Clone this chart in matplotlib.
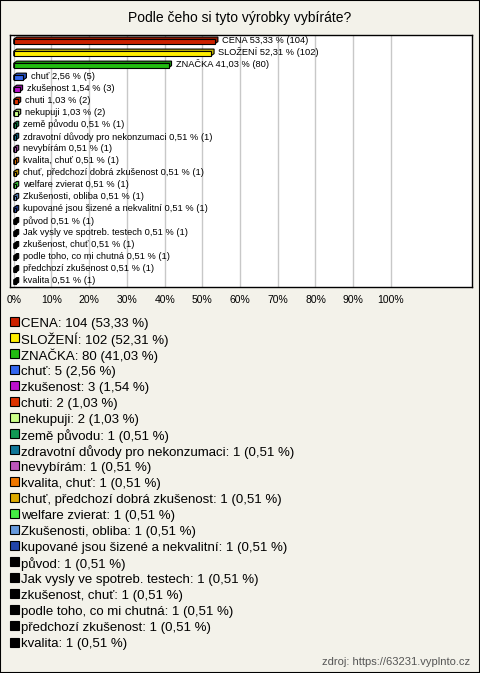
import numpy as np
import matplotlib.pyplot as plt
from matplotlib.patches import Rectangle
from matplotlib.colors import to_rgb

plt.rcParams['font.family'] = ['Liberation Sans', 'DejaVu Sans']

# data
labels = ["CENA", "SLOŽENÍ", "ZNAČKA", "chuť", "zkušenost", "chuti", "nekupuji",
          "země původu", "zdravotní důvody pro nekonzumaci", "nevybírám", "kvalita, chuť",
          "chuť, předchozí dobrá zkušenost", "welfare zvierat", "Zkušenosti, obliba",
          "kupované jsou šizené a nekvalitní", "původ", "Jak vysly ve spotreb. testech",
          "zkušenost, chuť", "podle toho, co mi chutná", "předchozí zkušenost", "kvalita"]
counts = [104, 102, 80, 5, 3, 2, 2, 1, 1, 1, 1, 1, 1, 1, 1, 1, 1, 1, 1, 1, 1]
pcts = [53.33, 52.31, 41.03, 2.56, 1.54, 1.03, 1.03] + [0.51] * 14
colors = ["#cc2200", "#ffee00", "#22bb11", "#3366ee", "#bb11cc", "#dd3300", "#ccff88",
          "#119955", "#117799", "#bb55bb", "#ee7700", "#ddaa00", "#44ee44", "#6699dd",
          "#2244aa"] + ["#000000"] * 6
ticks = list(range(0, 101, 10))


def pct(p):
    return f"{p:.2f}".replace(".", ",")


W, H = 480, 673
fig = plt.figure(figsize=(W / 100, H / 100), dpi=100)
fig.patch.set_facecolor("#f3f2ea")
fig.patches.append(Rectangle((0, 0), 1, 1, transform=fig.transFigure, fill=False,
                             edgecolor="black", linewidth=1.5))

fig.text(0.5, 1 - 18 / H, "Podle čeho si tyto výrobky vybíráte?", ha="center", va="center",
         fontsize=10)

ax = fig.add_axes([10 / W, 1 - 287 / H, 462 / W, 252 / H])
ax.set_facecolor("white")
ax.set_xlim(-1.0, 121.5)
n = len(labels)
ax.set_ylim(n - 0.5, -0.45)
ax.set_xticks(ticks)
ax.set_xticklabels([f"{t}%" for t in ticks], fontsize=7.5)
ax.tick_params(axis="x", length=0, pad=6)
ax.set_yticks([])
for t in ticks:
    ax.axvline(t, color="#c8c8c8", linewidth=1, zorder=0)
for s in ax.spines.values():
    s.set_linewidth(1)

# 3d-ish bars
h = 0.38
dx, dy = 0.8, 0.18
for i, (lab, c, p, col) in enumerate(zip(labels, counts, pcts, colors)):
    yt, yb = i - h / 2 + dy / 2, i + h / 2 + dy / 2
    dark = tuple(v * 0.75 for v in to_rgb(col))
    ax.fill([0, 0, dx, p + dx, p + dx, p], [yb, yt, yt - dy, yt - dy, yb - dy, yb],
            facecolor=dark, edgecolor="black", linewidth=0.8, zorder=2)
    ax.add_patch(Rectangle((0, yt), p, yb - yt, facecolor=col, edgecolor="black",
                           linewidth=0.8, zorder=3))
    ax.text(p + dx + 1.1, i, f"{lab} {pct(p)} % ({c})",
            va="center", ha="left", fontsize=6.7, zorder=4)

# legend below
y0, step = 322, 16.05
for i, (lab, c, p, col) in enumerate(zip(labels, counts, pcts, colors)):
    y = y0 + i * step
    fig.patches.append(Rectangle((10 / W, 1 - (y + 3.5) / H), 9 / W, 9 / H,
                                 transform=fig.transFigure, facecolor=col,
                                 edgecolor="black", linewidth=0.8))
    fig.text(21 / W, 1 - y / H, f"{lab}: {c} ({pct(p)} %)",
             va="center_baseline", ha="left", fontsize=9.5)

fig.text(470 / W, 1 - 662 / H, "zdroj: https://63231.vyplnto.cz", ha="right",
         va="center", fontsize=8, color="#555555")

fig.savefig("out.png", dpi=100, facecolor=fig.get_facecolor())
